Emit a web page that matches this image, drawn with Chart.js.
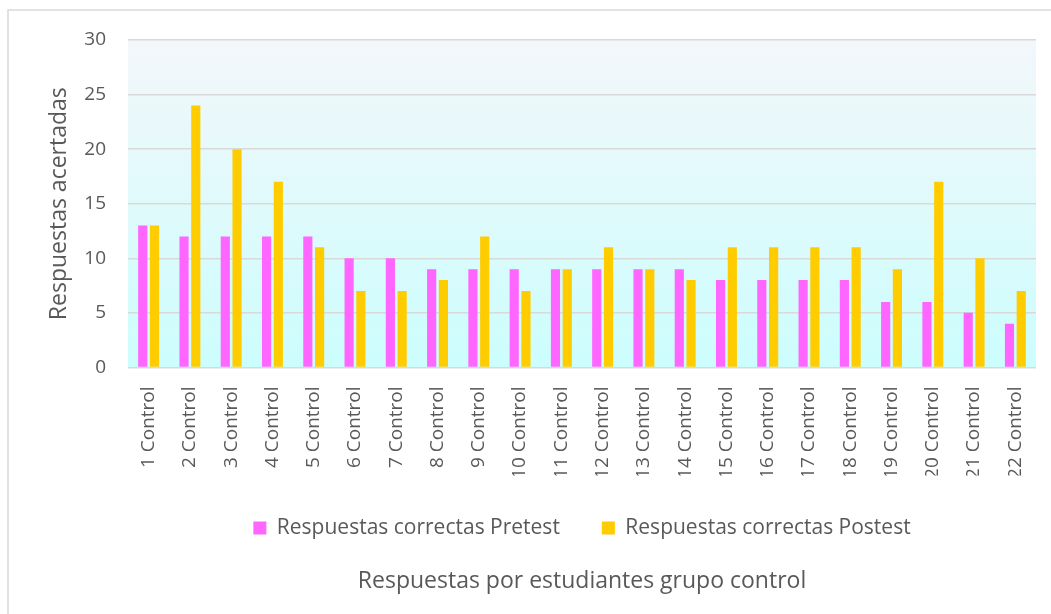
<!doctype html>
<html>

<head>
    <title>Respuestas grupo control</title>
    <script src="https://cdn.jsdelivr.net/npm/chart.js@4.4.1/dist/chart.umd.min.js"></script>
	<style>
	body { margin: 0; background: #fff; }
	canvas {
		-moz-user-select: none;
		-webkit-user-select: none;
		-ms-user-select: none;
	}
	</style>
</head>

<body>
	<canvas id="chart-area" width="1051" height="614"></canvas>
	<script>
		var categories = ['1 Control', '2 Control', '3 Control', '4 Control', '5 Control', '6 Control', '7 Control',
			'8 Control', '9 Control', '10 Control', '11 Control', '12 Control', '13 Control', '14 Control',
			'15 Control', '16 Control', '17 Control', '18 Control', '19 Control', '20 Control', '21 Control', '22 Control'];
		var pretest = [13, 12, 12, 12, 12, 10, 10, 9, 9, 9, 9, 9, 9, 9, 8, 8, 8, 8, 6, 6, 5, 4];
		var postest = [13, 24, 20, 17, 11, 7, 7, 8, 12, 7, 9, 11, 9, 8, 11, 11, 11, 11, 9, 17, 10, 7];
		var yTicks = [0, 5, 10, 15, 20, 25, 30];

		var FONT = '"Open Sans", Lato, sans-serif';
		var TEXT = '#595959';

		// gradient behind the plot + thin frame round the whole chart
		var backdrop = {
			id: 'backdrop',
			beforeDraw: function(chart) {
				var ctx = chart.ctx, a = chart.chartArea;
				ctx.save();
				var g = ctx.createLinearGradient(0, a.top, 0, a.bottom);
				g.addColorStop(0, '#f3f7fa');
				g.addColorStop(1, '#ccfdfd');
				ctx.fillStyle = g;
				ctx.fillRect(a.left, a.top, a.right - a.left, a.bottom - a.top);
				ctx.strokeStyle = '#d9d9d9';
				ctx.lineWidth = 1.5;
				ctx.strokeRect(8, 10, 1100, 700);
				ctx.restore();
			}
		};

		var ctx = document.getElementById('chart-area').getContext('2d');
		window.myBar = new Chart(ctx, {
			type: 'bar',
			data: {
				labels: categories,
				datasets: [{
					label: 'Respuestas correctas Pretest',
					backgroundColor: '#ff66ff',
					data: pretest
				}, {
					label: 'Respuestas correctas Postest',
					backgroundColor: '#ffcc00',
					data: postest
				}]
			},
			options: {
				responsive: false,
				animation: false,
				categoryPercentage: 0.57,
				barPercentage: 0.78,
				layout: { padding: { left: 46, top: 40, right: 15, bottom: 19 } },
				plugins: {
					legend: {
						position: 'bottom',
						fullSize: false,
						labels: {
							boxWidth: 13,
							boxHeight: 13,
							padding: 42,
							color: TEXT,
							font: { family: FONT, size: 21 }
						}
					},
					title: {
						display: true,
						position: 'bottom',
						fullSize: false,
						text: 'Respuestas por estudiantes grupo control',
						color: TEXT,
						font: { family: FONT, size: 23, weight: 'normal' },
						padding: { top: 19, bottom: 0 }
					},
					tooltip: { enabled: false }
				},
				scales: {
					x: {
						grid: { display: false },
						border: { display: false },
						ticks: {
							minRotation: 90,
							maxRotation: 90,
							padding: 11,
							color: TEXT,
							font: { family: FONT, size: 19 }
						},
						afterFit: function(s) { s.height = 108; }
					},
					y: {
						min: 0,
						max: 30,
						afterBuildTicks: function(s) {
							s.ticks = yTicks.map(function(v) { return { value: v }; });
						},
						grid: { color: '#d9d9d9', lineWidth: 1.5, drawTicks: false },
						border: { display: false },
						ticks: {
							padding: 22,
							color: TEXT,
							font: { family: FONT, size: 19 }
						},
						title: {
							display: true,
							text: 'Respuestas acertadas',
							color: TEXT,
							font: { family: FONT, size: 23 },
							padding: { top: 0, bottom: 0 }
						},
						afterFit: function(s) { s.width = 82; }
					}
				}
			},
			plugins: [backdrop]
		});
	</script>
</body>

</html>
